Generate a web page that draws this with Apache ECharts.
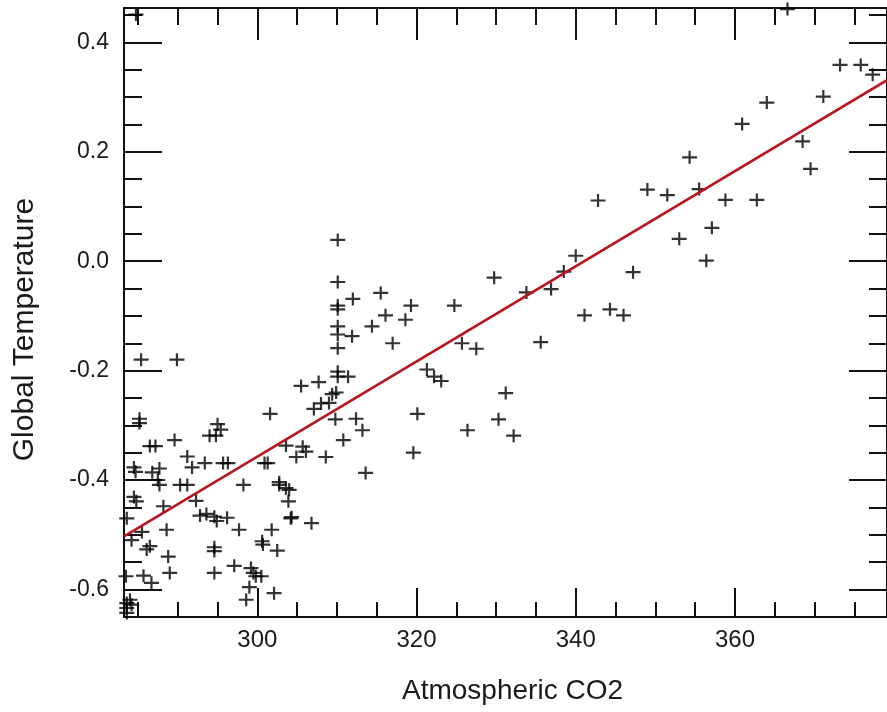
<!DOCTYPE html>
<html>
<head>
<meta charset="utf-8">
<title>Global Temperature vs Atmospheric CO2</title>
<script src="https://cdn.jsdelivr.net/npm/echarts@6/dist/echarts.min.js"></script>
<style>
  html, body { margin: 0; padding: 0; background: #fff; }
  #chart { width: 887px; height: 712px; }
</style>
</head>
<body>
<div id="chart"></div>
<script>
// scatter points
const co2 = [
  284.75, 366.6, 373.2, 375.8, 377.3, 371.1, 364.0, 360.9, 368.5, 354.3,
  369.5, 349.0, 351.5, 355.5, 358.8, 362.75, 342.8, 357.1, 353.0, 356.4,
  340.0, 338.5, 347.2, 329.75, 333.8, 336.9, 324.75, 319.3, 341.1, 344.3,
  346.0, 325.7, 327.5, 335.6, 321.3, 322.2, 323.1, 331.2, 320.1, 330.3,
  326.4, 332.2, 319.6,
  310.1, 310.1, 312.0, 310.1, 310.1, 315.5, 316.1, 318.6, 314.4, 310.1,
  310.1, 311.9, 310.1, 317.0, 310.1, 310.1, 311.4, 307.7, 305.5, 309.9,
  309.4, 307.1, 308.0, 309.0, 301.6, 309.8, 312.4, 313.2, 310.8, 303.6,
  305.7, 306.1, 304.9, 308.6, 301.3, 313.6, 302.75, 304.0, 303.9, 304.3,
  306.8, 301.8, 300.6, 302.5, 300.5, 302.1,
  285.4, 289.9, 285.2, 285.2, 295.0, 295.4, 294.0, 294.8, 286.5, 287.2,
  289.6, 291.2, 291.8, 293.4, 295.7, 296.3, 284.5, 284.7, 286.8, 287.7,
  287.5, 287.7, 290.3, 291.2, 298.25, 284.5, 284.8, 288.2, 292.3, 292.8,
  293.6, 294.6, 294.9, 296.2, 297.7, 283.6, 288.6, 284.2, 285.5, 286.5,
  286.1, 288.8, 294.6, 294.6, 289.0, 285.7, 286.7, 294.6, 297.1, 299.2,
  299.5, 299.8, 299.0, 298.6, 283.6, 283.6, 283.6, 284.2, 284.0, 283.5,
  300.9, 302.75, 303.6, 304.2, 300.7
];
const temperature = [
  0.451, 0.461, 0.359, 0.359, 0.341, 0.301, 0.290, 0.251, 0.219, 0.190,
  0.169, 0.131, 0.121, 0.132, 0.112, 0.112, 0.111, 0.061, 0.041, 0.001,
  0.010, -0.019, -0.020, -0.030, -0.057, -0.051, -0.081, -0.081, -0.099, -0.088,
  -0.099, -0.150, -0.160, -0.148, -0.198, -0.211, -0.219, -0.241, -0.279, -0.289,
  -0.309, -0.319, -0.350,
  0.039, -0.038, -0.069, -0.081, -0.088, -0.058, -0.099, -0.107, -0.119, -0.119,
  -0.134, -0.137, -0.159, -0.150, -0.202, -0.211, -0.211, -0.221, -0.228, -0.240,
  -0.243, -0.270, -0.260, -0.259, -0.279, -0.289, -0.288, -0.309, -0.327, -0.337,
  -0.339, -0.348, -0.358, -0.358, -0.369, -0.387, -0.409, -0.418, -0.439, -0.468,
  -0.479, -0.491, -0.512, -0.529, -0.576, -0.607,
  -0.180, -0.180, -0.288, -0.296, -0.298, -0.308, -0.319, -0.319, -0.338, -0.338,
  -0.327, -0.357, -0.377, -0.369, -0.369, -0.369, -0.377, -0.385, -0.386, -0.379,
  -0.400, -0.409, -0.409, -0.409, -0.409, -0.431, -0.439, -0.448, -0.438, -0.465,
  -0.462, -0.467, -0.475, -0.469, -0.491, -0.470, -0.491, -0.510, -0.495, -0.521,
  -0.527, -0.540, -0.523, -0.530, -0.570, -0.575, -0.588, -0.570, -0.557, -0.561,
  -0.570, -0.576, -0.596, -0.619, -0.625, -0.634, -0.643, -0.628, -0.619, -0.576,
  -0.369, -0.404, -0.415, -0.470, -0.518
];

// red fitted line, ends
const fitCo2 = [283.25, 379.1];
const fitTemp = [-0.503, 0.331];

// axis ranges
const xRange = [283.25, 379.1];
const yRange = [-0.6505, 0.463];

const points = co2.map((x, i) => [x, temperature[i]]);
const fitLine = fitCo2.map((x, i) => [x, fitTemp[i]]);

const plusPath = 'path://M0,5.4L15,5.4L15,7.6L0,7.6Z M6.4,0L8.6,0L8.6,13L6.4,13Z';
const axisColor = '#111';
const textColor = '#1a1a1a';
const fontFamily = '"Liberation Sans", Arial, Helvetica, sans-serif';

const xAxisBase = {
  type: 'value',
  min: xRange[0],
  max: xRange[1],
  splitNumber: 5,
  splitLine: { show: false },
  axisLine: { show: true, onZero: false, lineStyle: { color: axisColor, width: 2 } },
  minorTick: { show: true, splitNumber: 4, lineStyle: { color: axisColor, width: 2 } },
  axisTick: { inside: true, lineStyle: { color: axisColor, width: 2 } }
};

const yAxisBase = {
  type: 'value',
  min: yRange[0],
  max: yRange[1],
  splitNumber: 5,
  splitLine: { show: false },
  axisLine: { show: true, onZero: false, lineStyle: { color: axisColor, width: 2 } },
  minorTick: { show: true, splitNumber: 4, length: 18, lineStyle: { color: axisColor, width: 2 } },
  axisTick: { inside: true, length: 38, lineStyle: { color: axisColor, width: 2 } }
};

const chart = echarts.init(document.getElementById('chart'));

chart.setOption({
  animation: false,
  backgroundColor: '#fff',
  grid: { left: 124, right: -4, top: 8, bottom: 95 },
  xAxis: [
    Object.assign({}, xAxisBase, {
      position: 'bottom',
      name: 'Atmospheric CO2',
      nameLocation: 'middle',
      nameGap: 60,
      nameTextStyle: { fontSize: 28, color: textColor, fontFamily: fontFamily, padding: [0, 0, 0, 14] },
      axisTick: Object.assign({}, xAxisBase.axisTick, { length: 29 }),
      minorTick: Object.assign({}, xAxisBase.minorTick, { length: 15 }),
      axisLabel: {
        margin: 11,
        fontSize: 24,
        color: textColor,
        fontFamily: fontFamily,
        showMinLabel: false,
        showMaxLabel: false
      }
    }),
    Object.assign({}, xAxisBase, {
      position: 'top',
      axisTick: Object.assign({}, xAxisBase.axisTick, { length: 32 }),
      minorTick: Object.assign({}, xAxisBase.minorTick, { length: 17 }),
      axisLabel: { show: false }
    })
  ],
  yAxis: [
    Object.assign({}, yAxisBase, {
      position: 'left',
      name: 'Global Temperature',
      nameLocation: 'middle',
      nameGap: 84,
      nameTextStyle: { fontSize: 30, color: textColor, fontFamily: fontFamily, padding: [0, 34, 0, 0] },
      axisLabel: {
        margin: 15,
        fontSize: 23,
        color: textColor,
        fontFamily: fontFamily,
        showMinLabel: false,
        showMaxLabel: false,
        formatter: v => v.toFixed(1)
      }
    }),
    Object.assign({}, yAxisBase, {
      position: 'right',
      axisLabel: { show: false }
    })
  ],
  series: [
    {
      type: 'scatter',
      data: points,
      clip: false,
      symbol: plusPath,
      symbolSize: [15, 13],
      itemStyle: { color: '#000' },
      z: 2
    },
    {
      type: 'line',
      data: fitLine,
      showSymbol: false,
      clip: false,
      lineStyle: { color: '#b8161e', width: 2.5 },
      z: 3
    }
  ]
});
</script>
</body>
</html>
